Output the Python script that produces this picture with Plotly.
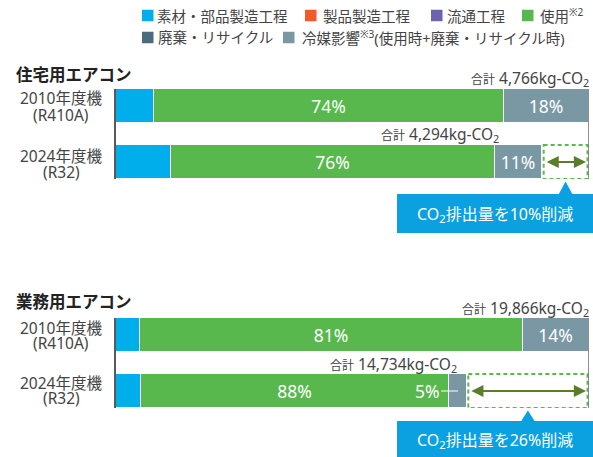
import plotly.graph_objects as go

# ---------------- data ----------------
stage_names = ["素材・部品製造工程", "製品製造工程", "流通工程", "使用<sup>※2</sup>",
               "廃棄・リサイクル", "冷媒影響<sup>※3</sup>(使用時+廃棄・リサイクル時)"]
stage_colors = ["#00aeec", "#f15a29", "#6a63ad", "#58b84e", "#4c6b7f", "#7a97a4"]

model_years = ["2010年度機", "2024年度機"]
refrigerants = ["(R410A)", "(R32)"]

res_title = "住宅用エアコン"
res_totals = [4766, 4294]          # kg-CO2
res_material = [8, 13]             # % of each bar total
res_product = [0, 0]
res_distribution = [0, 0]
res_use = [74, 76]
res_disposal = [0, 0]
res_refrigerant = [18, 11]
res_reduction = "10%"

biz_title = "業務用エアコン"
biz_totals = [19866, 14734]
biz_material = [5, 7]
biz_product = [0, 0]
biz_distribution = [0, 0]
biz_use = [81, 88]
biz_disposal = [0, 0]
biz_refrigerant = [14, 5]
biz_reduction = "26%"

labelled_stages = [3, 5]   # stages whose share is printed

# ---------------- layout helpers ----------------
W, H = 593, 457
X0, X1 = 116, 589
BW = 0.607
FONT = "Noto Sans, Noto Sans CJK JP"
TXT = "#444444"


def px(x):
    return x / W


def py(y):
    return 1 - y / H


fig = go.Figure()
annotations = []
shapes = []

charts = [
    dict(title=res_title, totals=res_totals,
         stages=[res_material, res_product, res_distribution, res_use, res_disposal, res_refrigerant],
         reduction=res_reduction, top=89, bottom=179, title_y=75,
         total_shift=[0, -43], label_dy=[(8, -9), (5.5, -10)], callout=(194, 233)),
    dict(title=biz_title, totals=biz_totals,
         stages=[biz_material, biz_product, biz_distribution, biz_use, biz_disposal, biz_refrigerant],
         reduction=biz_reduction, top=318, bottom=408, title_y=301,
         total_shift=[0, -10], label_dy=[(7.5, -8), (8.5, -7)], callout=(421, 460)),
]

layout_axes = {}
for ci, ch in enumerate(charts):
    suffix = "" if ci == 0 else str(ci + 1)
    xa, ya = "x" + suffix, "y" + suffix
    totals = ch["totals"]
    full = totals[0]
    scale = (X1 - X0) / full

    def to_px(v):
        return X0 + v * scale

    small_labels = []
    for si, vals in enumerate(ch["stages"]):
        if not any(vals):
            continue
        xs = [v / 100 * t for v, t in zip(vals, totals)]
        texts = []
        for bi, v in enumerate(vals):
            if si in labelled_stages and v > 0:
                if xs[bi] * scale < 30:
                    texts.append("")
                    small_labels.append((si, bi, v))
                else:
                    texts.append(f"{v}%")
            else:
                texts.append("")
        fig.add_trace(go.Bar(
            x=xs, y=model_years, orientation="h", width=BW,
            marker=dict(color=stage_colors[si], line=dict(color="white", width=1)),
            text=texts, textposition="inside", insidetextanchor="middle",
            textfont=dict(color="white", size=17.5, family=FONT), constraintext="none",
            xaxis=xa, yaxis=ya, showlegend=False, hoverinfo="skip"))

    # labels for segments too narrow to hold their text
    for si, bi, v in small_labels:
        before = sum(ch["stages"][k][bi] for k in range(si))
        centre = (before + v / 2) / 100 * totals[bi]
        annotations.append(dict(
            xref=xa, yref=ya, x=centre, y=model_years[bi], text=f"{v}%",
            showarrow=True, arrowhead=0, arrowwidth=1, arrowcolor="white",
            ax=-31, ay=0, font=dict(color="white", size=17.5, family=FONT)))

    layout_axes["xaxis" + suffix] = dict(domain=[px(X0), px(X1)], range=[0, full],
                                         visible=False, anchor=ya, fixedrange=True)
    layout_axes["yaxis" + suffix] = dict(domain=[py(ch["bottom"]), py(ch["top"])],
                                         range=[1 + BW / 2, -BW / 2], type="category",
                                         categoryorder="array", categoryarray=model_years,
                                         showline=True, linecolor="#5a5a5a", linewidth=1.5,
                                         showticklabels=False, ticks="", showgrid=False,
                                         zeroline=False, anchor=xa, fixedrange=True)

    # title
    annotations.append(dict(xref="paper", yref="paper", x=px(14), y=py(ch["title_y"]),
                            xanchor="left", yanchor="middle", showarrow=False,
                            text=f"<b>{ch['title']}</b>",
                            font=dict(size=16.5, color="#222222", family=FONT)))
    # row labels
    for bi in range(2):
        d1, d2 = ch["label_dy"][bi]
        annotations.append(dict(xref="paper", yref=ya, x=px(61), y=model_years[bi],
                                yshift=d1, showarrow=False, text=model_years[bi],
                                xanchor="center", yanchor="middle",
                                font=dict(size=15.5, color=TXT, family=FONT)))
        annotations.append(dict(xref="paper", yref=ya, x=px(61), y=model_years[bi],
                                yshift=d2, showarrow=False, text=refrigerants[bi],
                                xanchor="center", yanchor="middle",
                                font=dict(size=15.5, color=TXT, family=FONT)))
        # totals
        annotations.append(dict(
            xref=xa, yref=ya, x=totals[bi], y=model_years[bi], xshift=ch["total_shift"][bi] + 2,
            yshift=27, xanchor="right", yanchor="middle", showarrow=False,
            text=f'<span style="font-size:12px">合計</span> {totals[bi]:,}kg-CO<sub>2</sub>',
            font=dict(size=15.5, color=TXT, family=FONT)))

    # reduction box (dashed) and reference line at old total
    g = 1.5 / scale
    shapes.append(dict(type="rect", xref=xa, yref=ya, x0=totals[1] + g, x1=full - g,
                       y0=1 - BW / 2, y1=1 + BW / 2,
                       line=dict(color="#5cb94e", width=2, dash="4px,3px")))
    shapes.append(dict(type="line", xref=xa, yref=ya, x0=full, x1=full,
                       y0=-BW / 2, y1=1 + BW / 2, line=dict(color="#6b6b6b", width=1.5)))
    annotations.append(dict(xref=xa, yref=ya, x=full - 3 / scale, y=model_years[1],
                            axref=xa, ax=totals[1] + 3 / scale, ay=0, text="",
                            showarrow=True, arrowside="end+start", arrowhead=2,
                            arrowsize=1.1, arrowwidth=2.2, arrowcolor="#5a7d2a"))

    # callout
    ct, cb = ch["callout"]
    tip_x = to_px((totals[1] + full) / 2)
    tip_y = ch["bottom"] + 2.5
    shapes.append(dict(type="rect", xref="paper", yref="paper", x0=px(397), x1=px(593),
                       y0=py(cb), y1=py(ct), fillcolor="#0ba0df", line=dict(width=0)))
    shapes.append(dict(type="path", xref="paper", yref="paper",
                       path=f"M {px(tip_x)},{py(tip_y)} L {px(tip_x - 7)},{py(ct + 0.5)} "
                            f"L {px(tip_x + 7)},{py(ct + 0.5)} Z",
                       fillcolor="#0ba0df", line=dict(width=0)))
    annotations.append(dict(xref="paper", yref="paper", x=px(494.5), y=py((ct + min(cb, H)) / 2 + 1),
                            xanchor="center", yanchor="middle", showarrow=False,
                            text=f"CO<sub>2</sub>排出量を{ch['reduction']}削減",
                            font=dict(size=16, color="white", family=FONT)))

# ---------------- legend (manual, two rows) ----------------
legend_pos = [(142, 15.5, 157), (305, 15.5, 323), (431, 15.5, 447), (522, 15.5, 540),
              (142, 37.5, 158), (283, 37.5, 302)]
for (sx, sy, tx), name, col in zip(legend_pos, stage_names, stage_colors):
    shapes.append(dict(type="rect", xref="paper", yref="paper", x0=px(sx), x1=px(sx + 11.5),
                       y0=py(sy + 5.75), y1=py(sy - 5.75), fillcolor=col, line=dict(width=0)))
    annotations.append(dict(xref="paper", yref="paper", x=px(tx - 2), y=py(sy),
                            xanchor="left", yanchor="middle", showarrow=False, text=name,
                            font=dict(size=14.5, color=TXT, family=FONT)))

fig.update_layout(
    width=W, height=H, margin=dict(l=0, r=0, t=0, b=0),
    paper_bgcolor="white", plot_bgcolor="white", barmode="stack",
    showlegend=False, font=dict(family=FONT, color=TXT),
    annotations=annotations, shapes=shapes, bargap=0, **layout_axes)

fig.write_html("out.html", config={"displayModeBar": False},
               post_script="document.body.style.margin='0';document.body.style.overflow='hidden';")
